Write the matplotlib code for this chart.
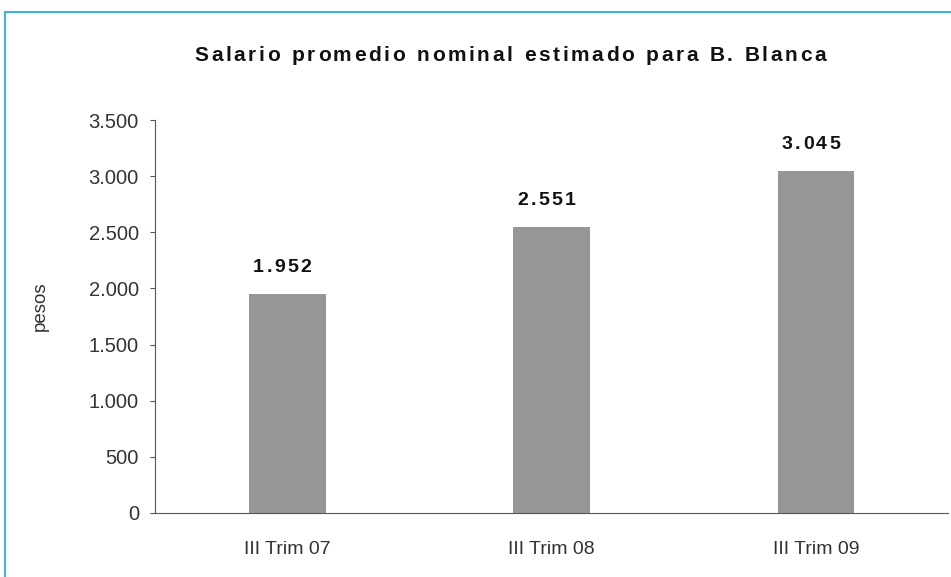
import matplotlib
matplotlib.use("Agg")
import matplotlib.pyplot as plt
from matplotlib.lines import Line2D
from matplotlib.transforms import offset_copy

categorias = ["III Trim 07", "III Trim 08", "III Trim 09"]
salarios = [1952, 2551, 3045]
etiquetas = ["1.952", "2.551", "3.045"]
yticks = [0, 500, 1000, 1500, 2000, 2500, 3000, 3500]
ytick_labels = ["0", "500", "1.000", "1.500", "2.000", "2.500", "3.000", "3.500"]
titulo = "Salario promedio nominal estimado para B. Blanca"

plt.rcParams['font.family'] = ['Liberation Sans', 'DejaVu Sans']

fig = plt.figure(figsize=(9.51, 5.77), dpi=100)
ax = fig.add_axes([0.163, 0.111, 0.834, 0.681])
renderer = fig.canvas.get_renderer()


def texto_espaciado(s, x, y, transform, track, dx=0, dy=0, **kw):
    # dibuja letra por letra con espaciado extra (px), centrado en x
    anchos = []
    for ch in s:
        t = fig.text(0, 0, ch if ch != " " else "n", **kw)
        w = t.get_window_extent(renderer).width
        if ch == " ":
            w *= 0.5
        anchos.append(w)
        t.remove()
    total = sum(anchos) + track * (len(s) - 1)
    pos = -total / 2 + dx
    for ch, w in zip(s, anchos):
        tr = offset_copy(transform, fig=fig, x=pos * 72 / fig.dpi,
                         y=dy * 72 / fig.dpi, units="points")
        fig.text(x, y, ch, transform=tr, ha="left", va="baseline", **kw)
        pos += w + track


x = range(len(categorias))
ax.bar(x, salarios, width=0.29, color="#969696")

for xi, v, t in zip(x, salarios, etiquetas):
    texto_espaciado(t, xi, v, ax.transData, 2.5, dx=-5, dy=22,
                    fontsize=14, fontweight="bold", color="#111111")

ax.set_xlim(-0.5, 2.5)
ax.set_ylim(0, 3500)
ax.set_xticks(list(x))
ax.set_xticklabels(categorias, fontsize=14, color="#333333")
ax.set_yticks(yticks)
ax.set_yticklabels(ytick_labels, fontsize=14.5, color="#333333")
ax.tick_params(axis="x", length=0, pad=20)
ax.tick_params(axis="y", direction="out", length=3.6, color="#555555", pad=8)

for s in ["top", "right"]:
    ax.spines[s].set_visible(False)
ax.spines["left"].set_color("#555555")
ax.spines["bottom"].set_color("#555555")

fig.text(40 / 951, 1 - 306 / 577, "pesos", rotation=90, ha="center",
         va="center", fontsize=13.5, color="#333333")

texto_espaciado(titulo, 510 / 951, 1 - 61 / 577, fig.transFigure, 2.6,
                fontsize=15, fontweight="bold", color="#111111")

# marco celeste
fig.add_artist(Line2D([5 / 951, 1], [1 - 12 / 577, 1 - 12 / 577],
                      transform=fig.transFigure, color="#3ab6d8", lw=1.5))
fig.add_artist(Line2D([5 / 951, 5 / 951], [0, 1 - 12 / 577],
                      transform=fig.transFigure, color="#3ab6d8", lw=1.5))

fig.savefig("out.png", dpi=100)
